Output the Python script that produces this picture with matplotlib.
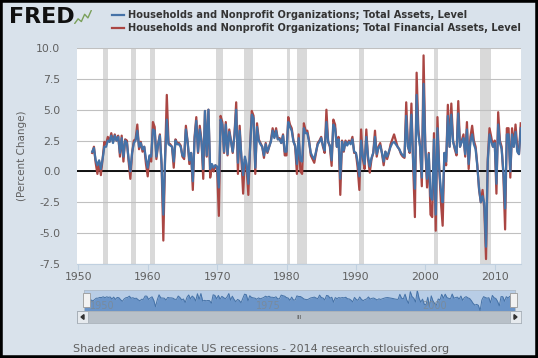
import numpy as np
import matplotlib
matplotlib.use('Agg')
import matplotlib.pyplot as plt
from matplotlib.patches import Rectangle, Polygon

# quarterly percent change, 1952Q1 .. 2013Q4
financial = [
    1.5, 2.0, 0.7, -0.2,   0.8, -0.3, 1.0, 2.4,   2.2, 2.8, 2.4, 3.1,   2.4, 3.0, 2.5, 2.9,
    1.2, 2.9, 0.8, 2.6,    2.5, 0.8, -0.6, 1.5,   2.5, 2.6, 3.8, 1.8,   2.4, 1.6, 2.0, 0.6,
    -0.4, 1.2, 0.8, 4.0,   3.6, 1.0, 2.2, 3.0,    0.5, -5.6, 1.0, 6.2,  2.3, 2.2, 2.0, 0.3,
    2.6, 2.3, 2.3, 2.1,    1.2, 1.0, 3.7, 2.4,    0.6, 1.5, -1.5, 2.8,  4.4, 1.5, 3.7, 2.5,
    -0.6, 4.9, 1.2, 5.0,   -0.5, 0.4, 0.0, 0.5,   0.2, -3.6, 4.5, 4.0,  1.5, 4.0, 1.3, 3.4,
    2.5, 1.5, 3.0, 5.6,    -0.2, 3.7, 1.0, -1.8,  1.0, 0.3, -1.9, 2.0,  4.9, 4.5, -0.2, 3.9,
    2.6, 2.3, 2.0, 1.1,    2.3, 1.5, 2.0, 2.5,    3.5, 2.8, 3.5, 2.6,   2.7, 2.3, 3.0, 1.3,
    1.3, 4.4, 3.8, 3.5,    2.5, 2.0, -0.2, 3.0,   0.0, -0.2, 3.9, 3.3,  3.3, 2.5, 1.3, 1.0,
    0.7, 1.5, 2.3, 2.5,    2.8, 2.0, 1.5, 5.0,    2.4, 2.0, 0.45, 4.2,  3.8, 2.0, 2.8, -1.9,
    2.5, 1.6, 2.5, 2.2,    2.5, 2.3, 2.8, 1.5,    1.5, 0.3, -1.5, 3.4,  1.0, 0.2, 3.4, 1.0,
    -0.1, 1.0, 1.5, 3.3,   1.2, 2.0, 2.3, 1.5,    0.5, 1.6, 1.0, 1.5,   2.2, 2.6, 3.0, 2.5,
    2.0, 1.8, 1.4, 1.2,    1.1, 5.6, 2.0, 1.5,    5.5, 0.5, -3.7, 8.0,  3.4, 2.0, -1.2, 9.4,
    2.0, -1.3, 1.5, -3.5,  -3.7, 3.1, -4.8, 4.4,  0.3, -2.5, -4.4, 1.5, 0.5, 5.4, 2.0, 5.5,
    2.5, 1.8, 1.3, 5.7,    2.0, 2.5, 3.0, 1.2,    4.0, 0.2, 2.8, 3.7,   2.5, 2.0, 0.5, -1.5,
    -2.5, -1.5, -3.0, -7.1, 1.0, 3.5, 2.8, 2.0,   2.5, -1.8, 4.8, 2.5,  2.0, -0.3, -4.7, 3.5,
    3.5, -0.5, 3.5, 2.0,   3.8, 2.0, 1.4, 3.9,
]
total = [
    1.6, 1.9, 0.9, 0.5,    0.9, 0.2, 1.0, 2.0,    2.0, 2.5, 2.4, 2.9,   2.3, 2.9, 2.5, 2.8,
    1.5, 2.7, 1.2, 2.5,    2.3, 1.0, 0.0, 1.5,    2.3, 2.5, 3.3, 2.0,   2.3, 1.8, 2.0, 1.0,
    0.3, 1.3, 1.2, 3.4,    3.3, 1.2, 2.2, 2.9,    0.6, -3.5, 1.0, 4.2,  2.2, 2.1, 2.0, 0.8,
    2.5, 2.2, 2.2, 2.0,    1.3, 1.2, 3.4, 2.4,    0.9, 1.5, -0.8, 2.6,  4.1, 1.6, 3.4, 2.4,
    0.2, 4.9, 1.3, 5.0,    0.2, 0.6, 0.3, 0.5,    0.4, -1.3, 4.2, 3.8,  1.6, 3.8, 1.4, 3.2,
    2.4, 1.6, 2.9, 5.0,    0.7, 3.3, 1.2, -0.3,   1.2, 0.6, -1.0, 1.9,  4.6, 4.3, 0.3, 3.6,
    2.5, 2.2, 2.0, 1.3,    2.2, 1.6, 2.0, 2.4,    3.3, 2.7, 3.3, 2.6,   2.6, 2.3, 2.9, 1.6,
    1.6, 4.0, 3.6, 3.3,    2.4, 2.1, 0.6, 2.7,    0.9, 0.8, 3.5, 3.1,   3.1, 2.4, 1.5, 1.2,
    1.0, 1.6, 2.2, 2.4,    2.7, 2.1, 1.7, 4.0,    2.4, 2.1, 0.9, 3.8,   3.5, 2.0, 2.6, -0.6,
    2.4, 1.7, 2.4, 2.1,    2.4, 2.2, 2.6, 1.6,    1.5, 0.8, -0.4, 2.5,  1.2, 0.6, 2.8, 1.2,
    0.4, 1.1, 1.5, 2.8,    1.4, 1.9, 2.1, 1.5,    0.8, 1.6, 1.2, 1.6,   2.0, 2.3, 2.4, 2.2,
    2.0, 1.8, 1.5, 1.3,    1.2, 4.5, 2.0, 1.6,    4.6, 0.8, -1.4, 6.2,  3.0, 2.0, -0.5, 7.1,
    2.0, -0.6, 1.4, -2.0,  -2.3, 2.6, -3.5, 3.5,  0.2, -1.5, -2.5, 1.5, 0.8, 4.5, 2.0, 4.6,
    2.4, 1.9, 1.5, 4.7,    2.0, 2.4, 2.7, 1.4,    3.4, 0.6, 2.4, 3.0,   2.2, 1.8, 0.4, -1.4,
    -2.5, -2.0, -2.6, -6.1, 0.8, 3.0, 2.4, 2.0,   2.3, -1.0, 3.8, 2.3,  1.8, 0.0, -3.0, 3.0,
    3.0, 0.0, 3.0, 2.0,    3.2, 1.6, 1.4, 3.5,
]
start_year = 1952
years = start_year + np.arange(len(total)) / 4.0

# US recessions (start, end) in fractional years
recessions = [(1953.5, 1954.3), (1957.6, 1958.3), (1960.3, 1961.1), (1969.9, 1970.9),
              (1973.9, 1975.2), (1980.0, 1980.5), (1981.5, 1982.9), (1990.5, 1991.2),
              (2001.2, 2001.9), (2007.9, 2009.5)]

label_total = 'Households and Nonprofit Organizations; Total Assets, Level'
label_fin = 'Households and Nonprofit Organizations; Total Financial Assets, Level'
footer = 'Shaded areas indicate US recessions - 2014 research.stlouisfed.org'

blue = '#4572A7'
red = '#AA4643'
grey_txt = '#606060'

W, H = 538, 358
fig = plt.figure(figsize=(W / 100, H / 100), dpi=100)
fig.patch.set_facecolor('#d9e2eb')

def px_axes(x0, y0, x1, y1):
    return fig.add_axes([x0 / W, 1 - y1 / H, (x1 - x0) / W, (y1 - y0) / H])

# main plot
ax = px_axes(77, 48, 521, 264)
ax.set_facecolor('white')
for a, b in recessions:
    ax.axvspan(a, b, color='#d9d9d9', lw=0, zorder=0)
ax.plot(years, financial, color=red, lw=1.6, zorder=3)
ax.plot(years, total, color=blue, lw=1.6, zorder=4)
ax.axhline(0, color='black', lw=1.3, zorder=2)
ax.set_xlim(1949.81, 2013.79)
ax.set_ylim(-7.5, 10)
ax.set_yticks(np.arange(-7.5, 10.01, 2.5))
ax.set_yticklabels(['%.1f' % v for v in np.arange(-7.5, 10.01, 2.5)])
ax.set_xticks(np.arange(1950, 2011, 10))
ax.grid(axis='y', color='#c0c0c0', lw=0.8, zorder=1)
for s in ['top', 'right', 'left']:
    ax.spines[s].set_visible(False)
ax.spines['bottom'].set_color('#c0d0e0')
ax.tick_params(axis='y', length=0, pad=12, labelsize=7.8, labelcolor=grey_txt)
ax.tick_params(axis='x', length=4, color='#c0d0e0', pad=2, labelsize=7.8, labelcolor=grey_txt)
fig.text(22 / W, 1 - 156 / H, '(Percent Change)', rotation=90, ha='center', va='center',
         fontsize=7.5, color=grey_txt)

# navigator
nav = px_axes(84, 290, 515, 311)
nav.set_facecolor('#b8cde6')
nav.fill_between(years, total, min(total) - 0.2, color='#6a94c8', lw=0)
nav.plot(years, total, color=blue, lw=0.7)
nav.set_xlim(years[0], years[-1])
nav.set_ylim(min(total) - 0.2, max(total) + 0.2)
nav.set_xticks([])
nav.set_yticks([])
for s in nav.spines.values():
    s.set_color('#b0bcc8')
    s.set_linewidth(0.6)
for yr, txt in [(1954.6, '1950'), (1978.4, '1975'), (2002.2, '2000')]:
    nav.text(yr, 0.22, txt, transform=nav.get_xaxis_transform(), ha='center', va='center',
             fontsize=7, color='#7a8a9a', alpha=0.9)
# nav handles
for hx in (86, 513):
    fig.patches.append(Rectangle(((hx - 3.5) / W, 1 - 307 / H), 7 / W, 14 / H,
                                 transform=fig.transFigure, facecolor='#f2f2f2',
                                 edgecolor='#999999', lw=0.6, zorder=5))

# scrollbar
sb = px_axes(77, 311, 521, 323)
sb.set_facecolor('#b8c0c8')
sb.set_xlim(0, 1)
sb.set_ylim(0, 1)
sb.set_xticks([])
sb.set_yticks([])
for s in sb.spines.values():
    s.set_color('#a8b0b8')
    s.set_linewidth(0.6)
for bx, sign in ((0.0, -1), (1 - 11 / 444, 1)):
    sb.add_patch(Rectangle((bx, 0), 11 / 444, 1, facecolor='#e6eaee', edgecolor='#a8b0b8', lw=0.6))
    cx = bx + 5.5 / 444
    d = 1.5 / 444
    sb.add_patch(Polygon([[cx + sign * d, 0.5], [cx - sign * d, 0.7], [cx - sign * d, 0.3]],
                         closed=True, color='#333333'))
sb.text(0.5, 0.45, 'III', ha='center', va='center', fontsize=4.5, color='#555555')

# legend / header
fig.text(9 / W, 1 - 17 / H, 'FRED', fontsize=16, fontweight='heavy', color='#111111',
         ha='left', va='center')
icon = px_axes(74, 10, 92, 24)
icon.set_facecolor('#d9e2eb')
icon_vals = [0.2, 0.45, 0.3, 0.7, 0.5, 0.9]
icon.plot(np.arange(len(icon_vals)), icon_vals, color='#7aa05a', lw=1.0)
icon.axis('off')
for yy, col, txt in [(15, blue, label_total), (28, red, label_fin)]:
    fig.add_artist(plt.Line2D([112 / W, 124 / W], [1 - yy / H, 1 - yy / H], color=col, lw=1.6))
    fig.text(128 / W, 1 - yy / H, txt, fontsize=7.1, fontweight='bold', color='#333333',
             ha='left', va='center')

fig.text(73 / W, 1 - 349 / H, footer, fontsize=8, color=grey_txt, ha='left', va='center')

# dark frame
fig.patches.append(Rectangle((0, 0), 1, 1, transform=fig.transFigure, fill=False,
                             edgecolor='black', lw=4, zorder=10))

fig.savefig('out.png', dpi=100, facecolor=fig.get_facecolor())
